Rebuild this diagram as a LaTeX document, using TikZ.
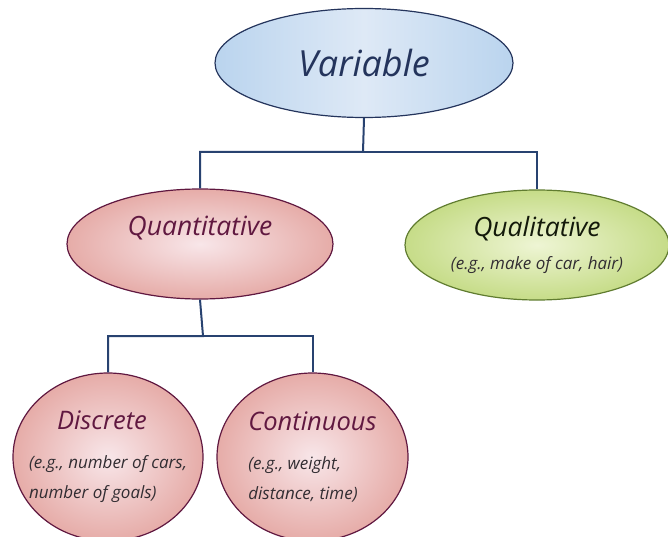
\documentclass[tikz,border=0pt]{standalone}
\usepackage{fontspec}
\setmainfont{Open Sans}
\usetikzlibrary{shapes.geometric}
\definecolor{varline}{RGB}{36,52,92}
\definecolor{varedge}{RGB}{186,212,238}
\definecolor{varmid}{RGB}{222,233,246}
\definecolor{quanline}{RGB}{96,24,64}
\definecolor{quanedge}{RGB}{230,172,168}
\definecolor{quanmid}{RGB}{248,230,233}
\definecolor{qualline}{RGB}{96,124,48}
\definecolor{qualedge}{RGB}{198,220,136}
\definecolor{qualmid}{RGB}{238,245,212}
\definecolor{linkblue}{RGB}{40,66,112}
\definecolor{egtext}{RGB}{50,45,50}
\newcommand{\egfont}{\fontsize{17}{27}\selectfont\itshape\color{egtext}}

\begin{document}
\begin{tikzpicture}[x=1pt,y=-1pt,
        bubble/.style={ellipse,inner sep=0pt,line width=1.2pt},
        topbox/.style={bubble,draw=varline,left color=varedge,right color=varedge,middle color=varmid,
          text=varline,font=\fontsize{36}{40}\selectfont\itshape},
        quanbox/.style={bubble,draw=quanline,inner color=quanmid,outer color=quanedge,
          text=quanline,font=\fontsize{26.5}{30}\selectfont\itshape},
        qualbox/.style={bubble,draw=qualline,inner color=qualmid,outer color=qualedge,
          text=black!80!qualline,font=\fontsize{26.5}{30}\selectfont\itshape,align=center},
        roundbox/.style={quanbox,inner xsep=-25pt,font=\fontsize{25.5}{30}\selectfont\itshape,align=left},
        link/.style={draw=linkblue,line width=2pt}]
        \useasboundingbox (0,0) rectangle (668,537);
        \node[topbox,minimum width=298pt,minimum height=109pt] (var) at (364,63) {Variable};
        \node[quanbox,minimum width=266pt,minimum height=110pt,text depth=36pt] (quan) at (200,244) {Quantitative};
        \node[qualbox,minimum width=264pt,minimum height=110pt] (qual) at (537,245)
          {Qualitative\\[3pt]\egfont (e.g., make of car, hair)};
        \node[roundbox,minimum width=190pt,minimum height=168pt] (disc) at (108,457)
          {\hspace*{28pt}Discrete\\[9pt]\egfont (e.g., number of cars,\\\egfont number of goals)};
        \node[roundbox,minimum width=191pt,minimum height=168pt] (cont) at (312.5,457)
          {Continuous\\[9pt]\egfont (e.g., weight,\\\egfont distance, time)};
        \coordinate (split1) at (363,152);
        \coordinate (split2) at (203,336);
        \draw[link] (var.south) -- (split1) -| (quan.north);
        \draw[link] (split1) -| (qual.north);
        \draw[link] (quan.south) -- (split2) -| (disc.north);
        \draw[link] (split2) -| (cont.north);
      \end{tikzpicture}
\end{document}
